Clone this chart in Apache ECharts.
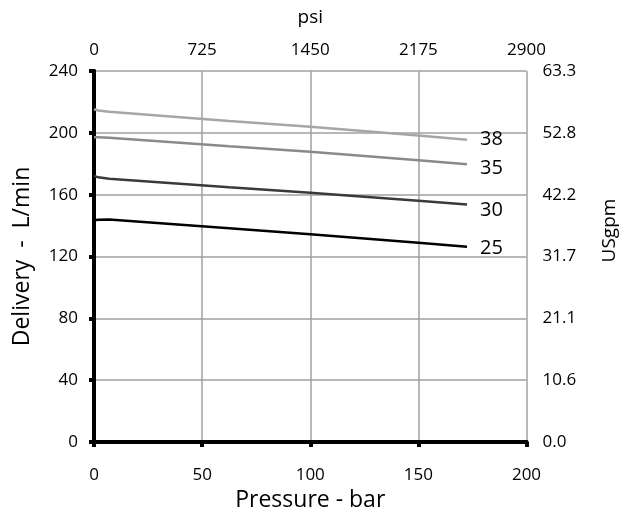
<!DOCTYPE html>
<html><head><meta charset="utf-8">
<script src="https://cdn.jsdelivr.net/npm/echarts@6/dist/echarts.min.js"></script>
<style>html,body{margin:0;padding:0;background:#fff}#c{width:621px;height:511px}</style>
</head><body><div id="c"></div>
<script>
var seriesNames = ['38', '35', '30', '25'];
var pressure = [0, 2, 7, 62.5, 100, 150, 172.5];
var s38 = [215.2, 214.5, 213.7, 207.6, 204.0, 198.3, 195.5];
var s35 = [197.2, 197.2, 196.8, 191.3, 187.7, 182.2, 179.6];
var s30 = [172.2, 171.2, 170.3, 164.8, 161.3, 156.1, 153.7];
var s25 = [143.5, 143.8, 144.0, 138.3, 134.4, 128.9, 126.3];
var bottomTicks = ['0', '50', '100', '150', '200'];
var topTicks = ['0', '725', '1450', '2175', '2900'];
var leftTicks = ['0', '40', '80', '120', '160', '200', '240'];
var rightTicks = ['0.0', '10.6', '21.1', '31.7', '42.2', '52.8', '63.3'];
var colors = ['#a6a6a6', '#8a8a8a', '#3a3a3a', '#000000'];
var allData = [s38, s35, s30, s25];

var font = 'Open Sans';
function pairs(ys) { return pressure.map(function (x, i) { return [x, ys[i]]; }); }

var chart = echarts.init(document.getElementById('c'));
chart.setOption({
  animation: false,
  grid: { left: 94, right: 94.5, top: 71, bottom: 69, containLabel: false, outerBoundsMode: 'none' },
  xAxis: [{
    type: 'value', min: 0, max: 200, interval: 50, position: 'bottom',
    name: 'Pressure - bar', nameLocation: 'middle', nameGap: 43.5,
    nameTextStyle: { fontFamily: font, fontSize: 23, color: '#000' },
    axisLine: { lineStyle: { color: '#000', width: 4 } },
    axisTick: { show: true, inside: false, length: 5, lineStyle: { color: '#000', width: 4 } },
    axisLabel: { fontFamily: font, fontSize: 17, color: '#000', margin: 25,
      formatter: function (v) { return bottomTicks[Math.round(v / 50)]; } },
    splitLine: { show: true, lineStyle: { color: '#a0a0a0', width: 1.5 } }
  }, {
    type: 'value', min: 0, max: 200, interval: 50, position: 'top',
    name: 'psi', nameLocation: 'middle', nameGap: 43.5,
    nameTextStyle: { fontFamily: font, fontSize: 19, color: '#000' },
    axisLine: { show: true, lineStyle: { color: '#000', width: 4 } },
    axisTick: { show: false },
    axisLabel: { fontFamily: font, fontSize: 17, color: '#000', margin: 12,
      formatter: function (v) { return topTicks[Math.round(v / 50)]; } },
    splitLine: { show: false }
  }],
  yAxis: [{
    type: 'value', min: 0, max: 240, interval: 40, position: 'left',
    name: 'Delivery  -  L/min', nameLocation: 'middle', nameGap: 60.5,
    nameTextStyle: { fontFamily: font, fontSize: 23, color: '#000' },
    axisLine: { show: true, lineStyle: { color: '#000', width: 4 } },
    axisTick: { show: true, length: 5, lineStyle: { color: '#000', width: 4 } },
    axisLabel: { fontFamily: font, fontSize: 17, color: '#000', margin: 16,
      formatter: function (v) { return leftTicks[Math.round(v / 40)]; } },
    splitLine: { show: true, lineStyle: { color: '#a0a0a0', width: 1.5 } }
  }, {
    type: 'value', min: 0, max: 240, interval: 40, position: 'right',
    name: 'USgpm', nameLocation: 'middle', nameGap: 74,
    nameTextStyle: { fontFamily: font, fontSize: 19, color: '#000', padding: [0, 0, 0, 52] },
    axisLine: { show: true, lineStyle: { color: '#000', width: 4 } },
    axisTick: { show: false },
    axisLabel: { fontFamily: font, fontSize: 17, color: '#000', margin: 16,
      formatter: function (v) { return rightTicks[Math.round(v / 40)]; } },
    splitLine: { show: false }
  }],
  series: seriesNames.map(function (n, i) {
    return {
      name: n, type: 'line', xAxisIndex: 0, yAxisIndex: 0,
      data: pairs(allData[i]), showSymbol: false, smooth: false,
      lineStyle: { color: colors[i], width: 2.5 },
      endLabel: { show: true, formatter: n, fontFamily: font, fontSize: 20, color: '#000',
        offset: [5, [0, 4, 6, 2][i]] }
    };
  })
});
</script>
</body></html>
